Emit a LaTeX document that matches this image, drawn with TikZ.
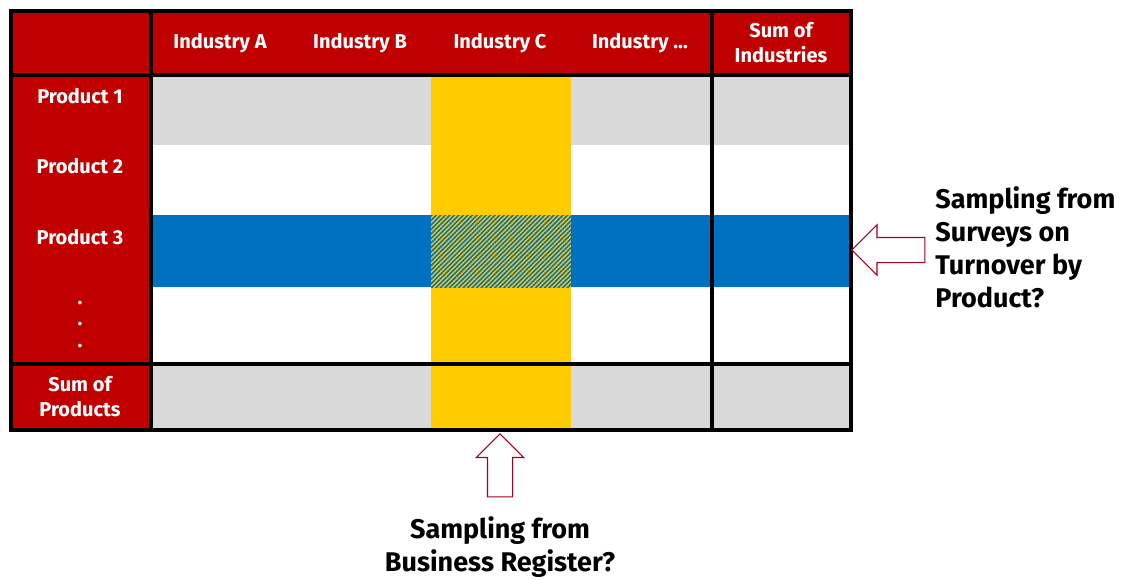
\documentclass[tikz,border=0pt]{standalone}
\usepackage{fontspec}
\setmainfont{Fira Sans}
\usetikzlibrary{patterns.meta, shapes.arrows}

\definecolor{hdred}{HTML}{C00000}
\definecolor{cellgray}{HTML}{D9D9D9}
\definecolor{rowblue}{HTML}{0070C0}
\definecolor{colyellow}{HTML}{FFCC00}
\definecolor{arrowred}{HTML}{A50021}

\tikzset{
  head/.style={text=white, font=\bfseries\fontsize{10}{12.5}\selectfont, align=center, inner sep=0pt},
  note/.style={font=\bfseries\fontsize{13.5}{16.5}\selectfont, inner sep=0pt},
  grid/.style={line width=2pt},
  blockarrow/.style={single arrow, draw=arrowred, fill=white, line width=0.6pt,
    inner sep=6pt, anchor=tip}
}

\begin{document}
\begin{tikzpicture}[x=0.5pt, y=-0.5pt]
  \useasboundingbox (0,0) rectangle (1122,579);

  % header row and row header column
  \fill[hdred] (11,11) rectangle (851,75);
  \fill[hdred] (11,75) rectangle (151,430);

  % body rows
  \fill[cellgray] (151,75) rectangle (851,145);
  \fill[white]    (151,145) rectangle (851,215);
  \fill[rowblue]  (151,215) rectangle (851,287);
  \fill[white]    (151,287) rectangle (851,364);
  \fill[cellgray] (151,364) rectangle (851,430);

  % industry column, crossed cell hatched
  \fill[colyellow] (431,75) rectangle (571,430);
  \fill[pattern={Lines[angle=45, distance=1.6pt, line width=0.8pt]}, pattern color=rowblue]
    (431,215) rectangle (571,287);

  % grid lines
  \draw[grid] (11,11) rectangle (851,430);
  \draw[grid] (151,11) -- (151,430);
  \draw[grid] (712,11) -- (712,430);
  \draw[grid] (11,75) -- (851,75);
  \draw[grid] (11,364) -- (851,364);

  % column labels
  \node[head] (indA) at (220,43) {Industry A};
  \node[head] (indB) at (360,43) {Industry B};
  \node[head] (indC) at (500,43) {Industry C};
  \node[head] (indX) at (640,43) {Industry …};
  \node[head] (sumInd) at (781,43) {Sum of\\Industries};

  % row labels
  \node[head] (prod1) at (80,96) {Product 1};
  \node[head] (prod2) at (80,166) {Product 2};
  \node[head] (prod3) at (80,237) {Product 3};
  \foreach \y in {302,323,345}
    \node[head, anchor=base] at (80,\y+2) {.};
  \node[head] (sumProd) at (80,397) {Sum of\\Products};

  % sampling arrows and notes
  \node[blockarrow, shape border rotate=180, minimum height=36.5pt,
    single arrow head extend=6.25pt] (surveyArrow) at (851,250) {};
  \node[note, align=left, anchor=west] (surveyNote) at (935,247)
    {Sampling from\\Surveys on\\Turnover by\\Product?};

  \node[blockarrow, shape border rotate=90, minimum height=31.5pt,
    single arrow head extend=5.5pt] (registerArrow) at (500,433) {};
  \node[note, align=center] (registerNote) at (500,547)
    {Sampling from\\Business Register?};
\end{tikzpicture}
\end{document}
